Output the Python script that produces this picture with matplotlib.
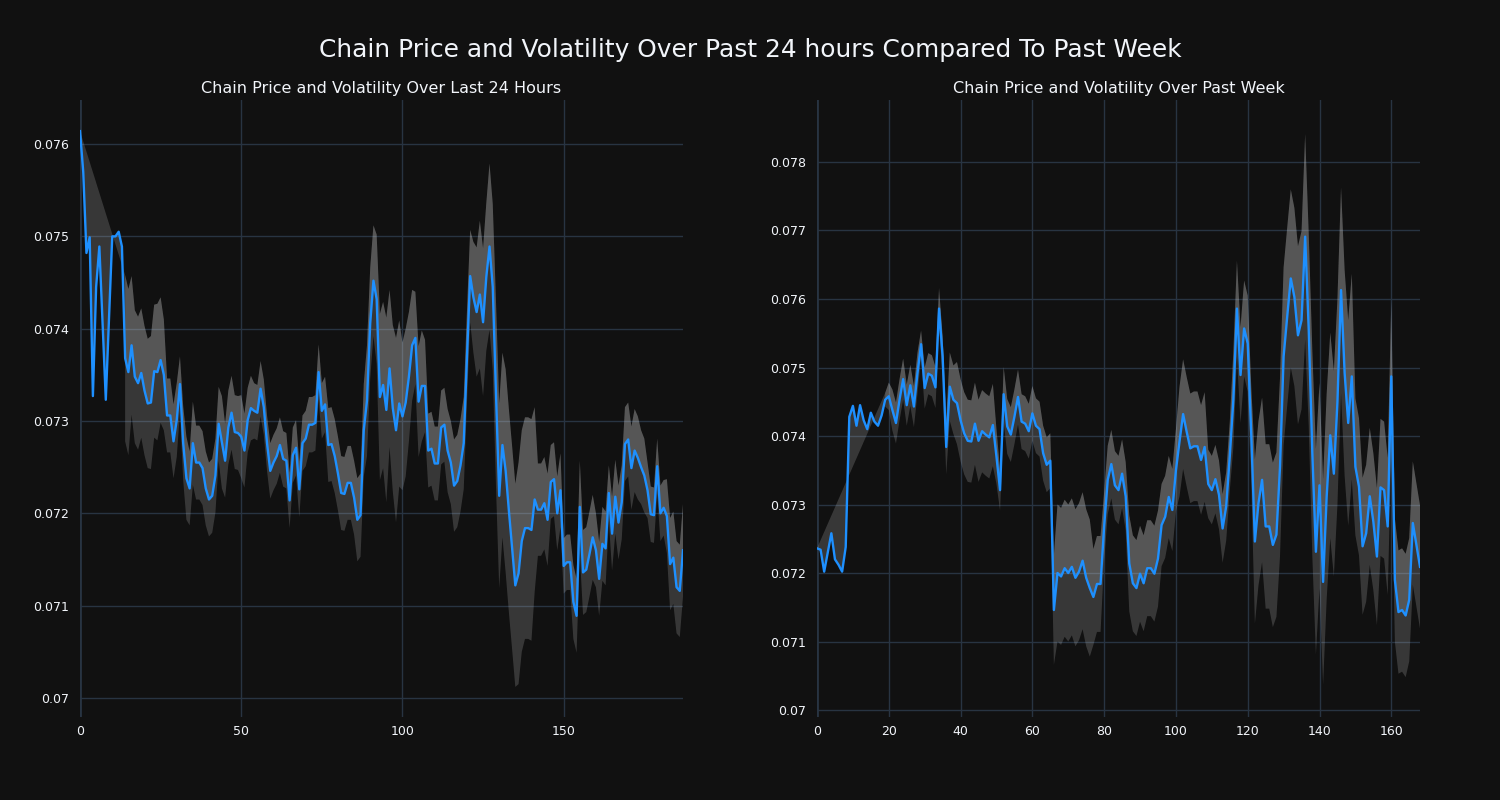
import numpy as np
import matplotlib
matplotlib.use("Agg")
import matplotlib.pyplot as plt
from matplotlib.ticker import FuncFormatter

# price over the last 24 hours (left) and its rolling volatility
day_price = [
    0.07614, 0.07570, 0.07482, 0.07499, 0.07327, 0.07445, 0.07489, 0.07406, 0.07323, 0.07410,
    0.07500, 0.07500, 0.07505, 0.07489, 0.07368, 0.07353, 0.07382, 0.07348, 0.07341, 0.07352,
    0.07333, 0.07319, 0.07320, 0.07354, 0.07353, 0.07366, 0.07350, 0.07306, 0.07306, 0.07278,
    0.07301, 0.07340, 0.07276, 0.07238, 0.07227, 0.07276, 0.07255, 0.07255, 0.07249, 0.07227,
    0.07215, 0.07219, 0.07241, 0.07297, 0.07277, 0.07257, 0.07293, 0.07309, 0.07288, 0.07287,
    0.07283, 0.07268, 0.07301, 0.07314, 0.07311, 0.07309, 0.07335, 0.07315, 0.07276, 0.07246,
    0.07255, 0.07262, 0.07274, 0.07259, 0.07257, 0.07214, 0.07263, 0.07271, 0.07226, 0.07276,
    0.07281, 0.07296, 0.07296, 0.07298, 0.07353, 0.07311, 0.07318, 0.07274, 0.07275, 0.07262,
    0.07243, 0.07222, 0.07221, 0.07233, 0.07233, 0.07217, 0.07193, 0.07198, 0.07290, 0.07322,
    0.07406, 0.07452, 0.07432, 0.07326, 0.07339, 0.07312, 0.07357, 0.07314, 0.07290, 0.07319,
    0.07305, 0.07320, 0.07348, 0.07382, 0.07390, 0.07321, 0.07338, 0.07338, 0.07268, 0.07270,
    0.07254, 0.07254, 0.07293, 0.07296, 0.07268, 0.07255, 0.07230, 0.07235, 0.07252, 0.07276,
    0.07369, 0.07457, 0.07434, 0.07418, 0.07437, 0.07407, 0.07456, 0.07489, 0.07445, 0.07330,
    0.07219, 0.07274, 0.07246, 0.07203, 0.07163, 0.07122, 0.07135, 0.07170, 0.07184, 0.07184,
    0.07182, 0.07215, 0.07204, 0.07204, 0.07211, 0.07193, 0.07234, 0.07237, 0.07200, 0.07225,
    0.07143, 0.07147, 0.07147, 0.07104, 0.07089, 0.07207, 0.07136, 0.07139, 0.07156, 0.07174,
    0.07160, 0.07129, 0.07167, 0.07162, 0.07222, 0.07178, 0.07218, 0.07190, 0.07212, 0.07275,
    0.07280, 0.07249, 0.07268, 0.07260, 0.07250, 0.07241, 0.07225, 0.07199, 0.07198, 0.07251,
    0.07200, 0.07206, 0.07197, 0.07145, 0.07152, 0.07120, 0.07116, 0.07160,
]
nan = float("nan")
day_vol = [
    nan, nan, nan, nan, nan, nan, nan, nan, nan, nan,
    nan, nan, nan, nan, 0.00090, 0.00090, 0.00075, 0.00072, 0.00072, 0.00070,
    0.00070, 0.00070, 0.00072, 0.00072, 0.00074, 0.00068, 0.00060, 0.00040, 0.00040, 0.00040,
    0.00040, 0.00030, 0.00040, 0.00045, 0.00040, 0.00045, 0.00040, 0.00040, 0.00040, 0.00040,
    0.00040, 0.00040, 0.00040, 0.00040, 0.00050, 0.00040, 0.00040, 0.00040, 0.00040, 0.00040,
    0.00045, 0.00040, 0.00035, 0.00035, 0.00030, 0.00030, 0.00030, 0.00030, 0.00030, 0.00030,
    0.00030, 0.00030, 0.00030, 0.00030, 0.00030, 0.00030, 0.00030, 0.00030, 0.00030, 0.00030,
    0.00030, 0.00030, 0.00030, 0.00030, 0.00030, 0.00030, 0.00030, 0.00040, 0.00040, 0.00040,
    0.00040, 0.00040, 0.00040, 0.00040, 0.00040, 0.00040, 0.00045, 0.00045, 0.00050, 0.00060,
    0.00060, 0.00060, 0.00070, 0.00090, 0.00090, 0.00100, 0.00085, 0.00090, 0.00100, 0.00090,
    0.00080, 0.00080, 0.00070, 0.00060, 0.00050, 0.00060, 0.00060, 0.00050, 0.00040, 0.00040,
    0.00040, 0.00040, 0.00040, 0.00040, 0.00045, 0.00045, 0.00050, 0.00050, 0.00050, 0.00050,
    0.00050, 0.00050, 0.00060, 0.00070, 0.00080, 0.00080, 0.00080, 0.00090, 0.00090, 0.00100,
    0.00100, 0.00100, 0.00110, 0.00110, 0.00110, 0.00110, 0.00120, 0.00120, 0.00120, 0.00120,
    0.00120, 0.00100, 0.00050, 0.00050, 0.00050, 0.00050, 0.00040, 0.00040, 0.00040, 0.00040,
    0.00030, 0.00030, 0.00030, 0.00040, 0.00040, 0.00050, 0.00046, 0.00046, 0.00046, 0.00046,
    0.00040, 0.00040, 0.00040, 0.00040, 0.00030, 0.00040, 0.00040, 0.00040, 0.00040, 0.00040,
    0.00040, 0.00045, 0.00045, 0.00045, 0.00040, 0.00040, 0.00030, 0.00030, 0.00030, 0.00030,
    0.00030, 0.00030, 0.00040, 0.00050, 0.00050, 0.00050, 0.00050, 0.00050,
]

# price over the past week (right) and its rolling volatility
week_price = [
    0.07236, 0.07234, 0.07202, 0.07230, 0.07258, 0.07220, 0.07212, 0.07202, 0.07238, 0.07428,
    0.07444, 0.07415, 0.07445, 0.07423, 0.07410, 0.07434, 0.07421, 0.07415, 0.07430, 0.07453,
    0.07458, 0.07438, 0.07419, 0.07453, 0.07483, 0.07445, 0.07474, 0.07443, 0.07492, 0.07534,
    0.07470, 0.07491, 0.07488, 0.07471, 0.07586, 0.07516, 0.07384, 0.07472, 0.07453, 0.07448,
    0.07423, 0.07404, 0.07393, 0.07392, 0.07418, 0.07393, 0.07407, 0.07402, 0.07398, 0.07416,
    0.07370, 0.07321, 0.07461, 0.07414, 0.07402, 0.07428, 0.07457, 0.07421, 0.07418, 0.07407,
    0.07433, 0.07415, 0.07410, 0.07375, 0.07358, 0.07364, 0.07146, 0.07200, 0.07195, 0.07207,
    0.07200, 0.07209, 0.07193, 0.07202, 0.07218, 0.07193, 0.07178, 0.07165, 0.07184, 0.07184,
    0.07268, 0.07336, 0.07359, 0.07328, 0.07321, 0.07345, 0.07312, 0.07214, 0.07185, 0.07178,
    0.07199, 0.07185, 0.07207, 0.07207, 0.07199, 0.07221, 0.07270, 0.07282, 0.07311, 0.07292,
    0.07350, 0.07392, 0.07432, 0.07406, 0.07382, 0.07385, 0.07385, 0.07365, 0.07384, 0.07330,
    0.07321, 0.07337, 0.07314, 0.07265, 0.07297, 0.07370, 0.07453, 0.07586, 0.07489, 0.07557,
    0.07535, 0.07400, 0.07246, 0.07302, 0.07336, 0.07268, 0.07268, 0.07241, 0.07256, 0.07355,
    0.07516, 0.07574, 0.07630, 0.07603, 0.07547, 0.07569, 0.07691, 0.07555, 0.07375, 0.07231,
    0.07328, 0.07187, 0.07312, 0.07401, 0.07345, 0.07450, 0.07613, 0.07492, 0.07419, 0.07487,
    0.07355, 0.07326, 0.07239, 0.07258, 0.07312, 0.07275, 0.07224, 0.07325, 0.07321, 0.07268,
    0.07487, 0.07190, 0.07143, 0.07146, 0.07138, 0.07161, 0.07273, 0.07241, 0.07209,
]
week_vol = [
    nan, nan, nan, nan, nan, nan, nan, nan, nan, nan,
    nan, nan, nan, nan, nan, nan, nan, nan, nan, 0.00010,
    0.00020, 0.00030, 0.00030, 0.00030, 0.00030, 0.00030, 0.00030, 0.00030, 0.00030, 0.00020,
    0.00030, 0.00030, 0.00030, 0.00030, 0.00030, 0.00030, 0.00040, 0.00050, 0.00050, 0.00060,
    0.00060, 0.00060, 0.00060, 0.00060, 0.00060, 0.00060, 0.00060, 0.00060, 0.00060, 0.00060,
    0.00040, 0.00030, 0.00040, 0.00040, 0.00040, 0.00040, 0.00040, 0.00040, 0.00040, 0.00040,
    0.00040, 0.00040, 0.00040, 0.00040, 0.00040, 0.00040, 0.00080, 0.00100, 0.00100, 0.00100,
    0.00100, 0.00100, 0.00100, 0.00100, 0.00100, 0.00100, 0.00100, 0.00070, 0.00070, 0.00070,
    0.00050, 0.00050, 0.00050, 0.00050, 0.00050, 0.00050, 0.00050, 0.00070, 0.00070, 0.00070,
    0.00070, 0.00070, 0.00070, 0.00070, 0.00070, 0.00070, 0.00060, 0.00060, 0.00060, 0.00060,
    0.00060, 0.00080, 0.00080, 0.00080, 0.00080, 0.00080, 0.00080, 0.00080, 0.00080, 0.00050,
    0.00050, 0.00050, 0.00050, 0.00050, 0.00050, 0.00050, 0.00070, 0.00070, 0.00070, 0.00070,
    0.00070, 0.00070, 0.00120, 0.00120, 0.00120, 0.00120, 0.00120, 0.00120, 0.00120, 0.00130,
    0.00130, 0.00130, 0.00130, 0.00130, 0.00130, 0.00130, 0.00150, 0.00140, 0.00150, 0.00150,
    0.00150, 0.00150, 0.00150, 0.00150, 0.00150, 0.00150, 0.00150, 0.00150, 0.00150, 0.00150,
    0.00100, 0.00100, 0.00100, 0.00100, 0.00100, 0.00100, 0.00100, 0.00100, 0.00100, 0.00100,
    0.00110, 0.00090, 0.00090, 0.00090, 0.00090, 0.00090, 0.00090, 0.00090, 0.00090,
]

day_yticks = [0.070, 0.071, 0.072, 0.073, 0.074, 0.075, 0.076]
week_yticks = [0.070, 0.071, 0.072, 0.073, 0.074, 0.075, 0.076, 0.077, 0.078]
day_xticks = [0, 50, 100, 150]
week_xticks = [0, 20, 40, 60, 80, 100, 120, 140, 160]

BG = "#111111"
GRID = "#283442"
TXT = "#f2f5fa"
BAND = (211 / 255, 211 / 255, 211 / 255)


def draw(ax, price, vol, ylim, xticks, yticks):
    price = np.array(price)
    vol = np.array(vol, dtype=float)
    x = np.arange(len(price))
    upper = price + vol
    lower = price - vol
    ok = ~np.isnan(vol)
    xs = x[ok]
    # upper band filled back to price, lower band filled back to upper
    ax.fill(np.concatenate([xs, x[::-1]]), np.concatenate([upper[ok], price[::-1]]),
            color=BAND, alpha=0.2, lw=0, zorder=2)
    ax.fill(np.concatenate([xs, xs[::-1]]), np.concatenate([lower[ok], upper[ok][::-1]]),
            color=BAND, alpha=0.2, lw=0, zorder=2)
    ax.plot(x, price, color="#1e90ff", lw=1.7, zorder=3)

    ax.set_facecolor(BG)
    ax.set_xlim(0, len(price) - 1)
    ax.set_ylim(*ylim)
    ax.set_xticks(xticks)
    ax.set_yticks(yticks)
    ax.yaxis.set_major_formatter(FuncFormatter(lambda v, p: f"{v:g}"))
    ax.grid(color=GRID, lw=1, zorder=0)
    ax.set_axisbelow(True)
    ax.axvline(0, color=GRID, lw=2, zorder=1)
    for s in ax.spines.values():
        s.set_visible(False)
    ax.tick_params(length=0, colors=TXT, labelsize=9)
    ax.tick_params(axis="y", pad=8)
    ax.tick_params(axis="x", pad=6)


fig = plt.figure(figsize=(15, 8), dpi=100, facecolor=BG)
ax1 = fig.add_axes([80 / 1500, 83 / 800, 603 / 1500, 617 / 800])
ax2 = fig.add_axes([817 / 1500, 83 / 800, 603 / 1500, 617 / 800])

draw(ax1, day_price, day_vol, (0.069794, 0.076477), day_xticks, day_yticks)
draw(ax2, week_price, week_vol, (0.069898, 0.078905), week_xticks, week_yticks)

fig.text(0.5, 1 - 50 / 800, "Chain Price and Volatility Over Past 24 hours Compared To Past Week",
         ha="center", va="center", color=TXT, fontsize=17.9)
fig.text(381.5 / 1500, 1 - 89 / 800, "Chain Price and Volatility Over Last 24 Hours",
         ha="center", va="center", color=TXT, fontsize=11.5)
fig.text(1118.5 / 1500, 1 - 89 / 800, "Chain Price and Volatility Over Past Week",
         ha="center", va="center", color=TXT, fontsize=11.5)

fig.savefig("out.png", dpi=100, facecolor=BG)
